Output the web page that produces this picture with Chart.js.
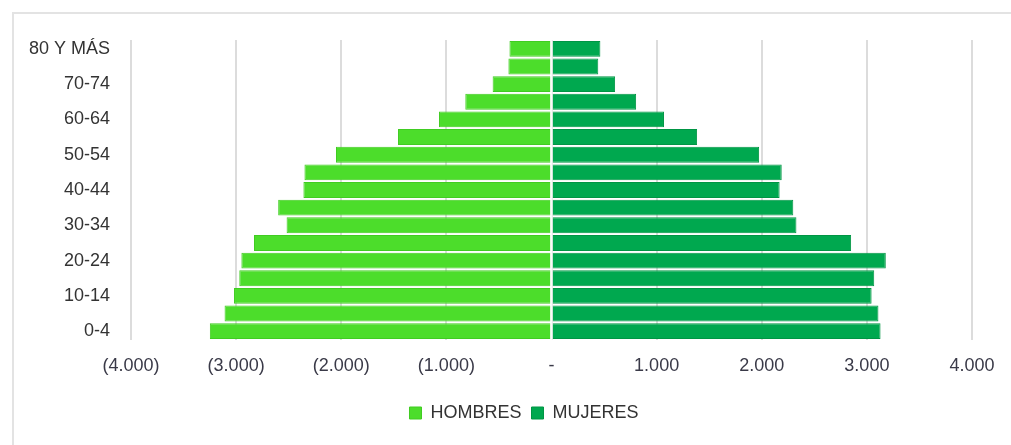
<!DOCTYPE html>
<html>
<head>
<meta charset="utf-8">
<script src="https://cdn.jsdelivr.net/npm/chart.js@4.4.0/dist/chart.umd.min.js"></script>
<style>
  body { margin: 0; background: #fff; overflow: hidden; }
  #marco { position: absolute; left: 12px; top: 12px; width: 1100px; height: 500px; border: 2px solid #e3e3e3; box-sizing: border-box; }
  #wrap { position: absolute; left: 0; top: 0; width: 1011px; height: 445px; }
</style>
</head>
<body>
<div id="marco"></div>
<div id="wrap"><canvas id="piramide" width="1011" height="445"></canvas></div>
<script>
// datos de la pirámide (de arriba hacia abajo)
const grupos = ['80 Y MÁS', '75-79', '70-74', '65-69', '60-64', '55-59', '50-54', '45-49', '40-44',
  '35-39', '30-34', '25-29', '20-24', '15-19', '10-14', '5-9', '0-4'];
const hombres = [400, 410, 560, 820, 1070, 1460, 2050, 2350, 2360, 2600, 2520, 2830, 2950, 2970, 3020, 3110, 3250];
const mujeres = [465, 445, 605, 805, 1070, 1385, 1975, 2190, 2170, 2300, 2330, 2850, 3180, 3070, 3045, 3110, 3130];
const ticksX = [-4000, -3000, -2000, -1000, 0, 1000, 2000, 3000, 4000];

const fuente = "'Liberation Sans Narrow', 'Arial Narrow', 'Liberation Sans', sans-serif";

function formato(v) {
  if (v === 0) return '-';
  let s = Math.abs(v).toString().replace(/\B(?=(\d{3})+(?!\d))/g, '.');
  return v < 0 ? '(' + s + ')' : s;
}

// linea blanca en el cero + leyenda centrada bajo el area del grafico
const ajustes = {
  id: 'ajustes',
  afterLayout(chart) {
    const desplazamiento = 38;
    chart.legend.left += desplazamiento;
    chart.legend.right += desplazamiento;
  },
  afterDatasetsDraw(chart) {
    const x = chart.scales.x.getPixelForValue(0);
    const ctx = chart.ctx;
    ctx.save();
    ctx.strokeStyle = 'rgba(255,255,255,0.85)';
    ctx.lineWidth = 2;
    ctx.beginPath();
    ctx.moveTo(x, chart.chartArea.top);
    ctx.lineTo(x, chart.chartArea.bottom);
    ctx.stroke();
    ctx.restore();
  }
};

let ctx = document.getElementById('piramide').getContext('2d');
new Chart(ctx, {
  type: 'bar',
  data: {
    labels: grupos,
    datasets: [{
      label: 'HOMBRES',
      data: hombres.map(v => -v),
      backgroundColor: '#4cdd2b',
      borderColor: '#40cc22',
      borderWidth: 1,
      barPercentage: 0.9,
      categoryPercentage: 1.0
    }, {
      label: 'MUJERES',
      data: mujeres,
      backgroundColor: '#00a84f',
      borderColor: '#009544',
      borderWidth: 1,
      barPercentage: 0.9,
      categoryPercentage: 1.0
    }]
  },
  options: {
    indexAxis: 'y',
    responsive: false,
    animation: false,
    layout: { padding: { top: 40, right: 39, bottom: 13, left: 0 } },
    scales: {
      x: {
        stacked: true,
        min: -4000,
        max: 4000,
        afterBuildTicks: axis => { axis.ticks = ticksX.map(v => ({ value: v })); },
        afterFit: axis => { axis.height = 54; },
        grid: { color: '#dcdcdc', lineWidth: 2, drawTicks: false },
        border: { display: false },
        ticks: {
          padding: 15,
          maxRotation: 0,
          color: '#3a3a48',
          font: { family: fuente, size: 18 },
          callback: v => formato(v)
        }
      },
      y: {
        stacked: true,
        afterFit: axis => { axis.width = 131; },
        grid: { display: false, drawTicks: false },
        border: { display: false },
        ticks: {
          padding: 21,
          autoSkip: false,
          color: '#333333',
          font: { family: fuente, size: 18 },
          callback: function(v, i) { return i % 2 === 0 ? this.getLabelForValue(v) : ''; }
        }
      }
    },
    plugins: {
      legend: {
        position: 'bottom',
        labels: {
          boxWidth: 12,
          boxHeight: 12,
          padding: 10,
          color: '#333333',
          font: { family: fuente, size: 18 }
        }
      },
      tooltip: { enabled: false }
    }
  },
  plugins: [ajustes]
});
</script>
</body>
</html>
